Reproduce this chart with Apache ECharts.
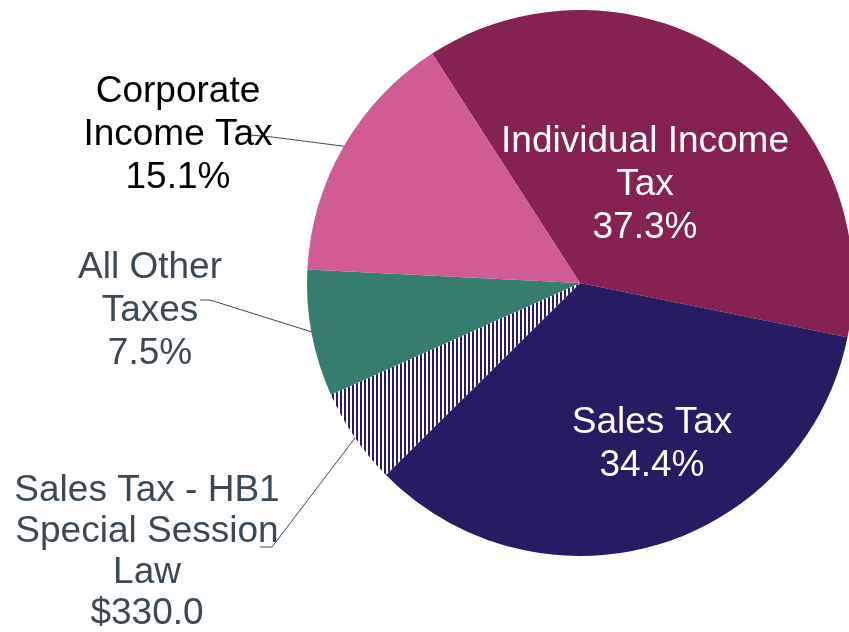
<!DOCTYPE html>
<html>
<head>
<meta charset="utf-8">
<script src="https://cdn.jsdelivr.net/npm/echarts@6/dist/echarts.min.js"></script>
<style>
html,body{margin:0;padding:0;background:#fff;}
#chart{width:849px;height:632px;}
</style>
</head>
<body>
<div id="chart"></div>
<script>
// ---- data ----
const categories = ['Individual Income Tax', 'Sales Tax', 'Sales Tax - HB1 Special Session Law', 'All Other Taxes', 'Corporate Income Tax'];
const shares = [37.3, 34.4, 5.7, 7.5, 15.1];
const labelNames = ['Individual Income\nTax', 'Sales Tax', 'Sales Tax - HB1\nSpecial Session\nLaw', 'All Other\nTaxes', 'Corporate\nIncome Tax'];
const valueLabels = ['37.3%', '34.4%', '$330.0', '7.5%', '15.1%'];

// ---- styles / layout ----
const colors = ['#862253', '#271B64', null, '#357D6F', '#D05B95'];
const textColors = ['#ffffff', '#ffffff', '#3B4954', '#3B4954', '#000000'];
const lineHeights = [43, 43, 41, 43, 43];
const labelPos = [
  {x: 645, y: 185},
  {x: 652, y: 444},
  {x: 147, y: 552, line: [[355, 438], [272, 547], [260, 547]]},
  {x: 150, y: 311, line: [[312, 332], [210, 300], [200, 300]]},
  {x: 178, y: 135, line: [[350, 147], [272, 137], [250, 135]]}
];

const pc = document.createElement('canvas');
pc.width = 4; pc.height = 4;
const ctx = pc.getContext('2d');
ctx.fillStyle = '#ffffff'; ctx.fillRect(0, 0, 4, 4);
ctx.fillStyle = '#2A1B6A'; ctx.fillRect(0, 0, 2, 4);

const chart = echarts.init(document.getElementById('chart'), null, {renderer: 'canvas'});
const data = categories.map((c, i) => ({
  name: c,
  value: shares[i],
  itemStyle: {color: colors[i] ? colors[i] : {image: pc, repeat: 'repeat'}},
  label: {
    color: textColors[i],
    lineHeight: lineHeights[i],
    formatter: labelNames[i] + '\n' + valueLabels[i]
  },
  labelLine: {show: !!labelPos[i].line}
}));

chart.setOption({
  animation: false,
  backgroundColor: '#ffffff',
  series: [{
    type: 'pie',
    center: [580, 283],
    radius: [0, 273],
    startAngle: 122.8,
    clockwise: true,
    avoidLabelOverlap: false,
    silent: true,
    itemStyle: {borderWidth: 0},
    label: {
      show: true,
      position: 'outside',
      fontFamily: 'Liberation Sans, Arial, sans-serif',
      fontSize: 37,
      lineHeight: 43,
      align: 'center'
    },
    labelLine: {
      show: true,
      lineStyle: {color: '#3B4954', width: 1}
    },
    labelLayout: function (p) {
      const lp = labelPos[p.dataIndex];
      const r = {x: lp.x, y: lp.y, align: 'center', verticalAlign: 'middle'};
      if (lp.line) r.labelLinePoints = lp.line;
      return r;
    },
    data: data
  }]
});
</script>
</body>
</html>
